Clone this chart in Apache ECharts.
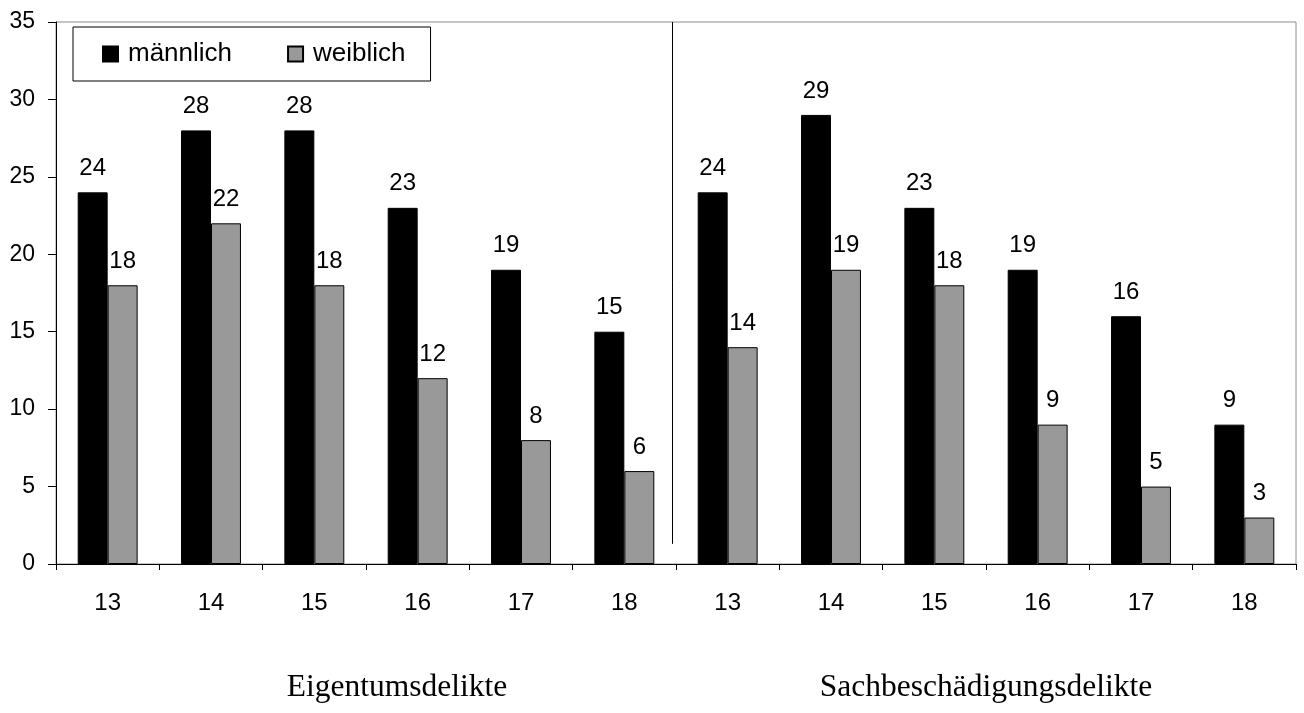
<!DOCTYPE html>
<html>
<head>
<meta charset="utf-8">
<script src="https://cdn.jsdelivr.net/npm/echarts@6/dist/echarts.min.js"></script>
<style>
  html, body { margin: 0; padding: 0; background: #ffffff; }
  #chart { width: 1304px; height: 713px; }
</style>
</head>
<body>
<div id="chart"></div>
<script>
// Ages within each offence group
const ages = ['13', '14', '15', '16', '17', '18', '13', '14', '15', '16', '17', '18'];
// Offence groups, each spanning six age categories
const groups = ['Eigentumsdelikte', 'Sachbeschädigungsdelikte'];
// Values per sex
const maennlich = [24, 28, 28, 23, 19, 15, 24, 29, 23, 19, 16, 9];
const weiblich = [18, 22, 18, 12, 8, 6, 14, 19, 18, 9, 5, 3];
// Value axis ticks
const yTicks = [0, 5, 10, 15, 20, 25, 30, 35];

const sans = '"Liberation Sans", Arial, sans-serif';
const serif = '"Liberation Serif", "Times New Roman", serif';

const chart = echarts.init(document.getElementById('chart'), null, { renderer: 'canvas' });

const labelStyle = {
  show: true,
  position: 'top',
  distance: 12,
  color: '#000',
  fontFamily: sans,
  fontSize: 24
};

const groupFont = { color: '#000', fontFamily: serif, fontSize: 31.5 };

chart.setOption({
  animation: false,
  backgroundColor: '#ffffff',
  grid: {
    left: 56, right: 8, top: 22, bottom: 149,
    show: true,
    borderColor: '#8c8c8c',
    borderWidth: 1,
    backgroundColor: 'transparent'
  },
  legend: {
    left: 73, top: 27,
    padding: [14, 25, 14, 29],
    itemGap: 55,
    itemWidth: 15, itemHeight: 15,
    icon: 'rect',
    borderColor: '#000', borderWidth: 1,
    backgroundColor: '#fff',
    textStyle: { fontFamily: sans, fontSize: 26, color: '#000', padding: [0, 0, 0, 5] },
    data: ['männlich', 'weiblich']
  },
  xAxis: [
    {
      type: 'category',
      data: ages,
      axisLine: { lineStyle: { color: '#000', width: 1 } },
      axisTick: { show: true, length: 6, lineStyle: { color: '#000' } },
      axisLabel: { color: '#000', fontFamily: sans, fontSize: 24, margin: 27 }
    },
    {
      type: 'category',
      data: groups,
      position: 'bottom',
      offset: 0,
      axisLine: { show: false },
      axisTick: { show: false },
      axisLabel: {
        ...groupFont,
        margin: 108,
        // first group title sits a little right of its group's centre
        formatter: (v, i) => (i === 0 ? '{shifted|' + v + '}' : '{plain|' + v + '}'),
        rich: {
          shifted: { ...groupFont, padding: [0, 0, 0, 62] },
          plain: { ...groupFont }
        }
      }
    }
  ],
  yAxis: {
    type: 'value',
    min: 0, max: 35, interval: 5,
    axisLine: { show: true, lineStyle: { color: '#000', width: 1 } },
    axisTick: { show: true, length: 8, lineStyle: { color: '#000' } },
    axisLabel: {
      color: '#000', fontFamily: sans, fontSize: 23, margin: 21,
      formatter: v => (yTicks.indexOf(v) >= 0 ? String(v) : '')
    },
    splitLine: { show: false }
  },
  series: [
    {
      name: 'männlich',
      type: 'bar',
      data: maennlich,
      barWidth: '29%',
      barGap: '0%',
      itemStyle: { color: '#000000', borderColor: '#000', borderWidth: 1 },
      label: labelStyle
    },
    {
      name: 'weiblich',
      type: 'bar',
      data: weiblich,
      barWidth: '29%',
      barGap: '0%',
      itemStyle: { color: '#999999', borderColor: '#000', borderWidth: 1 },
      label: labelStyle
    }
  ]
});

// Vertical separator between the two offence groups
function drawDivider() {
  const xa = chart.convertToPixel({ xAxisIndex: 0 }, 5);
  const xb = chart.convertToPixel({ xAxisIndex: 0 }, 6);
  const x = Math.round((xa + xb) / 2) - 4 + 0.5;
  const yTop = chart.convertToPixel({ yAxisIndex: 0 }, 35);
  const yBot = chart.convertToPixel({ yAxisIndex: 0 }, 1.3);
  chart.setOption({
    graphic: [{
      type: 'line',
      silent: true,
      z: 10,
      shape: { x1: x, y1: yTop, x2: x, y2: yBot },
      style: { stroke: '#000', lineWidth: 1 }
    }]
  });
}
drawDivider();
</script>
</body>
</html>
